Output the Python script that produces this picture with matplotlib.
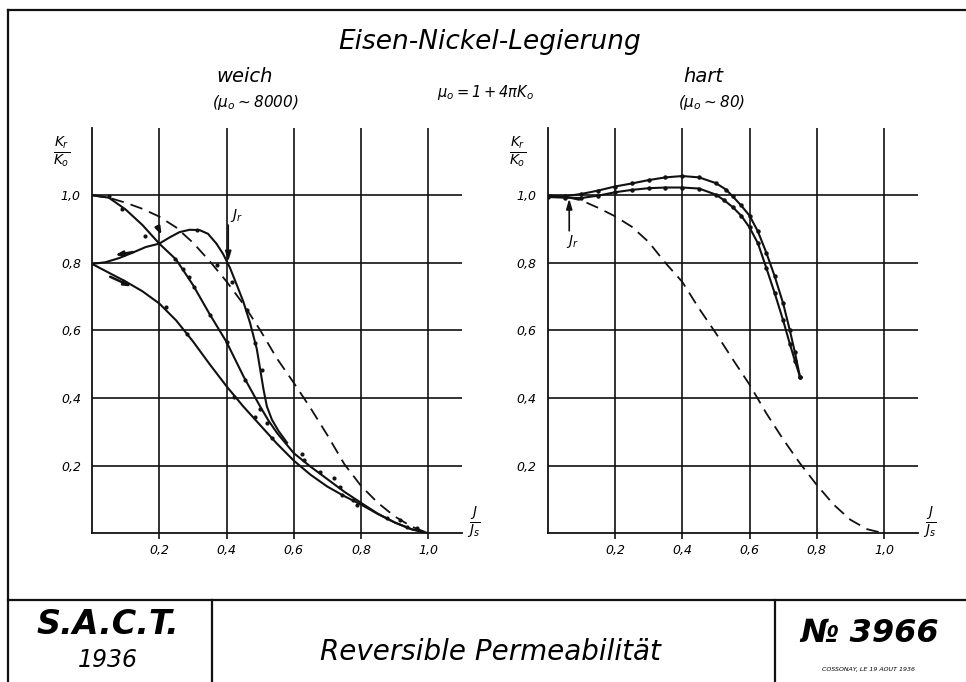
import numpy as np
import matplotlib
matplotlib.use("Agg")
import matplotlib.pyplot as plt
from matplotlib.lines import Line2D

# ------------------------
# data (x = J/Js, y = Kr/Ko)
# ------------------------
# weich (left panel)
soft_a_x = [0.0, 0.05, 0.1, 0.15, 0.2, 0.25, 0.3, 0.35, 0.4, 0.45, 0.5, 0.525, 0.55,
            0.6, 0.65, 0.7, 0.75, 0.8, 0.85, 0.9, 0.95, 1.0]
soft_a_y = [1.0, 0.993, 0.958, 0.912, 0.857, 0.81, 0.735, 0.648, 0.566, 0.465, 0.375, 0.333,
            0.297, 0.237, 0.197, 0.16, 0.123, 0.09, 0.058, 0.032, 0.012, 0.0]

soft_b_x = [0.0, 0.04, 0.08, 0.12, 0.16, 0.2, 0.23, 0.26, 0.29, 0.32, 0.345, 0.37, 0.39,
            0.41, 0.43, 0.45, 0.47, 0.49, 0.5, 0.51, 0.52, 0.535, 0.555, 0.58]
soft_b_y = [0.797, 0.802, 0.814, 0.83, 0.847, 0.857, 0.875, 0.891, 0.898, 0.897, 0.886, 0.857,
            0.826, 0.786, 0.736, 0.685, 0.622, 0.545, 0.485, 0.425, 0.375, 0.336, 0.302, 0.268]

soft_c_x = [0.0, 0.05, 0.1, 0.15, 0.2, 0.25, 0.3, 0.35, 0.4, 0.45, 0.5, 0.55, 0.6, 0.65,
            0.7, 0.75, 0.8, 0.85, 0.9, 0.95, 1.0]
soft_c_y = [0.797, 0.771, 0.745, 0.716, 0.68, 0.63, 0.568, 0.5, 0.435, 0.375, 0.32, 0.265,
            0.215, 0.173, 0.138, 0.11, 0.085, 0.057, 0.032, 0.012, 0.0]

soft_d_x = [0.0, 0.05, 0.1, 0.15, 0.2, 0.25, 0.3, 0.35, 0.4, 0.45, 0.5, 0.55, 0.6, 0.65,
            0.7, 0.75, 0.8, 0.85, 0.9, 0.95, 1.0]
soft_d_y = [1.0, 0.993, 0.978, 0.96, 0.937, 0.905, 0.86, 0.805, 0.745, 0.678, 0.601, 0.517,
            0.445, 0.37, 0.29, 0.205, 0.14, 0.09, 0.05, 0.02, 0.0]

soft_pts_x = [0.05, 0.089, 0.158, 0.248, 0.272, 0.287, 0.302, 0.351, 0.401, 0.455, 0.5,
              0.312, 0.371, 0.416, 0.46, 0.485, 0.505,
              0.221, 0.282, 0.421, 0.485, 0.52, 0.535, 0.624, 0.629, 0.678, 0.718, 0.738,
              0.743, 0.777, 0.787, 0.876, 0.916, 0.936, 0.965]
soft_pts_y = [0.998, 0.96, 0.879, 0.813, 0.783, 0.759, 0.729, 0.645, 0.566, 0.453, 0.369,
              0.897, 0.793, 0.744, 0.66, 0.562, 0.483,
              0.67, 0.589, 0.404, 0.345, 0.325, 0.281, 0.236, 0.217, 0.182, 0.163, 0.138,
              0.113, 0.099, 0.084, 0.044, 0.039, 0.02, 0.015]

# hart (right panel)
hard_e_x = [0.0, 0.05, 0.1, 0.15, 0.2, 0.25, 0.3, 0.35, 0.4, 0.45, 0.5, 0.53, 0.55, 0.575,
            0.6, 0.625, 0.65, 0.675, 0.7, 0.72, 0.735, 0.75]
hard_e_y = [0.997, 0.997, 1.004, 1.014, 1.026, 1.035, 1.045, 1.053, 1.057, 1.053, 1.036, 1.017,
            0.997, 0.97, 0.94, 0.893, 0.83, 0.76, 0.68, 0.6, 0.535, 0.463]

hard_f_x = [0.0, 0.05, 0.1, 0.15, 0.2, 0.25, 0.3, 0.35, 0.4, 0.45, 0.5, 0.525, 0.55, 0.575,
            0.6, 0.625, 0.65, 0.675, 0.7, 0.72, 0.735, 0.75]
hard_f_y = [0.995, 0.993, 0.992, 0.999, 1.009, 1.016, 1.021, 1.023, 1.023, 1.02, 1.002, 0.985,
            0.965, 0.94, 0.905, 0.858, 0.785, 0.71, 0.63, 0.56, 0.51, 0.463]

hard_g_x = [0.0, 0.05, 0.1, 0.15, 0.2, 0.25, 0.3, 0.35, 0.4, 0.45, 0.5, 0.55, 0.6, 0.65,
            0.7, 0.75, 0.8, 0.85, 0.9, 0.95, 1.0]
hard_g_y = [1.0, 0.996, 0.985, 0.963, 0.938, 0.907, 0.862, 0.8, 0.744, 0.665, 0.592, 0.515,
            0.44, 0.355, 0.278, 0.207, 0.143, 0.085, 0.04, 0.012, 0.0]

ticks = [0.2, 0.4, 0.6, 0.8, 1.0]
tick_labels = ["0,2", "0,4", "0,6", "0,8", "1,0"]

W, H = 966, 682
ink = "#111111"
plt.rcParams["mathtext.fontset"] = "dejavusans"
plt.rcParams["mathtext.default"] = "it"
plt.rcParams["font.family"] = "DejaVu Sans"
plt.rcParams["font.style"] = "italic"


def fx(px):
    return px / W


def fy(py):
    return 1 - py / H


fig = plt.figure(figsize=(W / 100, H / 100), dpi=100)
fig.patch.set_facecolor("white")


def setup_axes(rect):
    ax = fig.add_axes(rect)
    ax.set_xlim(0, 1.1)
    ax.set_ylim(0, 1.2)
    ax.set_xticks(ticks)
    ax.set_yticks(ticks)
    ax.set_xticklabels(tick_labels, fontsize=9, fontstyle="italic")
    ax.set_yticklabels(tick_labels, fontsize=9, fontstyle="italic")
    ax.tick_params(axis="x", length=4, width=1.2, color=ink, pad=4)
    ax.tick_params(axis="y", length=0, pad=8)
    ax.grid(True, color=ink, lw=1.2)
    ax.set_axisbelow(True)
    for s in ["top", "right"]:
        ax.spines[s].set_visible(False)
    for s in ["left", "bottom"]:
        ax.spines[s].set_linewidth(1.3)
        ax.spines[s].set_color(ink)
    ax.patch.set_alpha(0)
    ax.text(-0.09, 1.13, r"$\frac{K_r}{K_o}$", fontsize=14, ha="center", va="center")
    ax.text(1.135, 0.03, r"$\frac{J}{J_s}$", fontsize=14, ha="center", va="center")
    return ax


ax1 = setup_axes([fx(92), fy(533.3), 370 / W, 405.6 / H])
ax2 = setup_axes([fx(547.7), fy(533.3), 370 / W, 405.6 / H])

lw = 1.5
ax1.plot(soft_a_x, soft_a_y, color=ink, lw=lw)
ax1.plot(soft_b_x, soft_b_y, color=ink, lw=lw)
ax1.plot(soft_c_x, soft_c_y, color=ink, lw=lw)
ax1.plot(soft_d_x, soft_d_y, color=ink, lw=1.3, dashes=(7, 4))
ax1.plot(soft_pts_x, soft_pts_y, ls="none", marker="o", ms=2.0, color=ink)

# direction arrows on the weich curves
arrow_kw = dict(arrowstyle="-|>,head_length=0.35,head_width=0.12", color=ink, lw=1.8,
                mutation_scale=12, shrinkA=0, shrinkB=0)
ax1.annotate("", xy=(0.068, 0.823), xytext=(0.122, 0.832), arrowprops=arrow_kw)
ax1.annotate("", xy=(0.207, 0.882), xytext=(0.195, 0.907), arrowprops=arrow_kw)
ax1.annotate("", xy=(0.118, 0.73), xytext=(0.054, 0.759), arrowprops=arrow_kw)
jr_kw = dict(arrowstyle="-|>,head_length=0.5,head_width=0.15", color=ink, lw=1.2,
             mutation_scale=12, shrinkA=0, shrinkB=0)
ax1.annotate("", xy=(0.405, 0.804), xytext=(0.405, 0.912), arrowprops=jr_kw)
ax1.text(0.43, 0.94, r"$J_r$", fontsize=10, ha="center", va="center")

ax2.plot(hard_e_x, hard_e_y, color=ink, lw=lw, marker="o", ms=2.2)
ax2.plot(hard_f_x, hard_f_y, color=ink, lw=lw, marker="o", ms=2.2)
ax2.plot(hard_g_x, hard_g_y, color=ink, lw=1.3, dashes=(7, 4))
ax2.annotate("", xy=(0.064, 0.99), xytext=(0.064, 0.895), arrowprops=jr_kw)
ax2.text(0.075, 0.862, r"$J_r$", fontsize=10, ha="center", va="center")

# header texts
fig.text(fx(490), fy(42), "Eisen-Nickel-Legierung", fontsize=19, ha="center", va="center")
fig.text(fx(245), fy(76), "weich", fontsize=14, ha="center", va="center")
fig.text(fx(255), fy(103), r"($\mu_o \sim 8000$)", fontsize=11, ha="center", va="center")
fig.text(fx(485), fy(92), r"$\mu_o = 1 + 4\pi K_o$", fontsize=10.5, ha="center", va="center")
fig.text(fx(703), fy(76), "hart", fontsize=14, ha="center", va="center")
fig.text(fx(712), fy(103), r"($\mu_o \sim 80$)", fontsize=11, ha="center", va="center")

# drawing frame and title block
frame_kw = dict(color=ink, lw=1.6, transform=fig.transFigure)
fig.add_artist(Line2D([fx(8), fx(8)], [fy(9.5), fy(682)], **frame_kw))
fig.add_artist(Line2D([fx(8), fx(966)], [fy(9.5), fy(9.5)], **frame_kw))
fig.add_artist(Line2D([fx(8), fx(966)], [fy(600), fy(600)], **frame_kw))
fig.add_artist(Line2D([fx(212), fx(212)], [fy(600), fy(682)], **frame_kw))
fig.add_artist(Line2D([fx(775), fx(775)], [fy(600), fy(682)], **frame_kw))

fig.text(fx(108), fy(624), "S.A.C.T.", fontsize=24, fontweight="bold", ha="center", va="center")
fig.text(fx(108), fy(660), "1936", fontsize=17, ha="center", va="center")
fig.text(fx(490), fy(652), "Reversible Permeabilität", fontsize=20, ha="center", va="center")
fig.text(fx(870), fy(633), "№ 3966", fontsize=23, fontweight="bold", ha="center", va="center")
fig.text(fx(868), fy(669), "COSSONAY, LE 19 AOUT 1936", fontsize=4.5, ha="center", va="center")

fig.savefig("out.png", dpi=100, facecolor="white")
